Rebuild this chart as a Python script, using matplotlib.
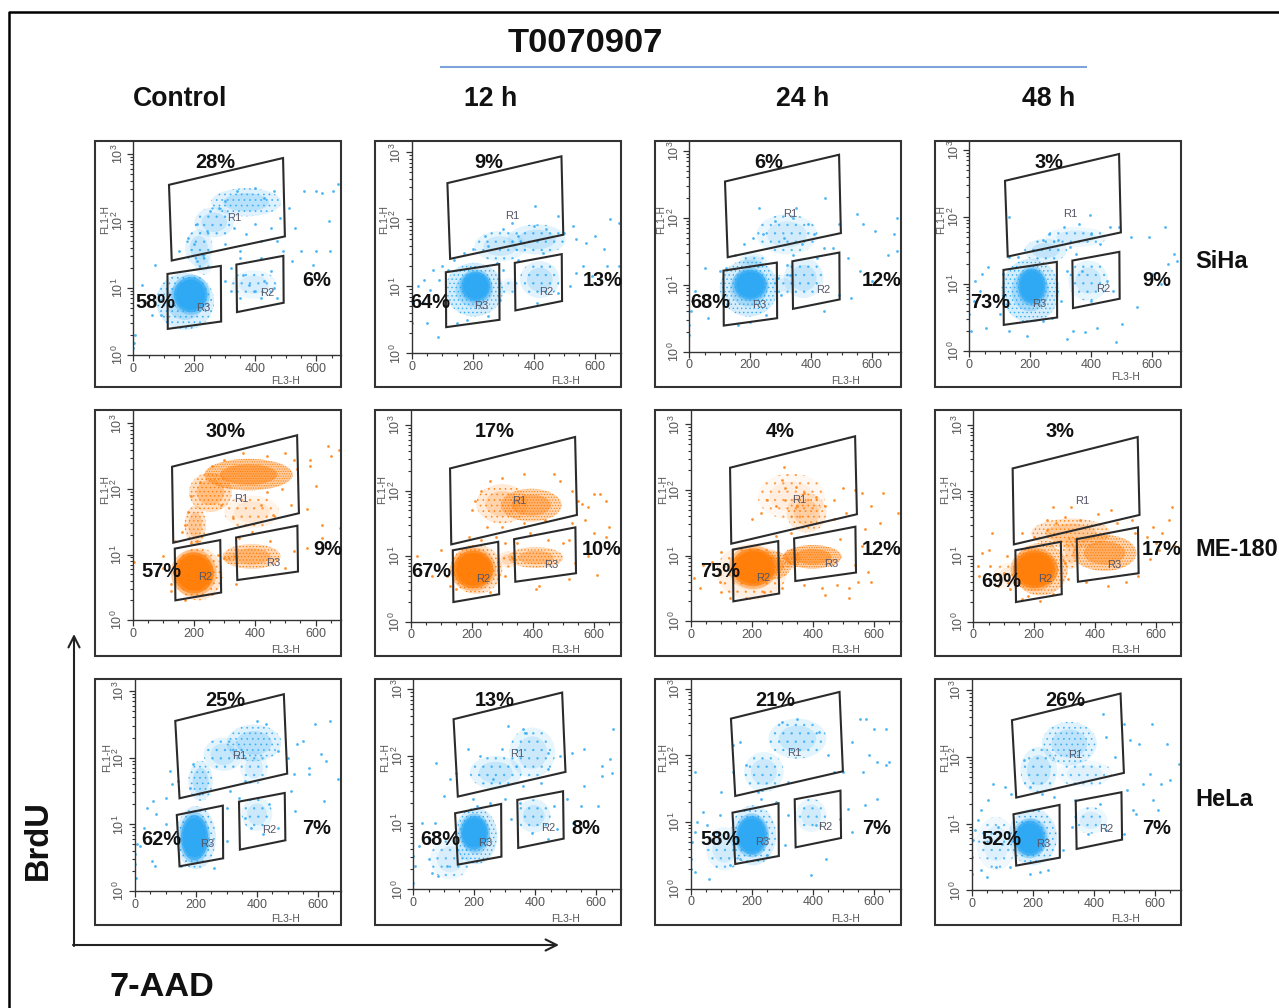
import matplotlib
matplotlib.use('Agg')
import matplotlib.pyplot as plt
import numpy as np
from matplotlib.patches import Ellipse, Polygon, Rectangle

plt.rcParams['font.family'] = ['Liberation Sans', 'DejaVu Sans']
plt.rcParams['mathtext.default'] = 'regular'
plt.rcParams['hatch.linewidth'] = 0.5

W, H = 1279, 1008
BLUE = '#2fa9f4'
ORANGE = '#ff7f0a'
TICK_GREY = '#555555'

ROW_NAMES = ['SiHa', 'ME-180', 'HeLa']
COL_NAMES = ['Control', '12 h', '24 h', '48 h']

# percentages per panel: top gate, left gate, right gate
SIHA_PCT = [('28%', '58%', '6%'), ('9%', '64%', '13%'), ('6%', '68%', '12%'), ('3%', '73%', '9%')]
ME180_PCT = [('30%', '57%', '9%'), ('17%', '67%', '10%'), ('4%', '75%', '12%'), ('3%', '69%', '17%')]
HELA_PCT = [('25%', '62%', '7%'), ('13%', '68%', '8%'), ('21%', '58%', '7%'), ('26%', '52%', '7%')]

# gates, FL3-H vs log10(FL1-H)
SIHA_GATES = {
    'R1': [(117, 2.54), (491, 2.94), (497, 1.77), (126, 1.41)],
    'R3': [(112, 1.21), (287, 1.33), (288, 0.50), (113, 0.39)],
    'R2': [(338, 1.35), (492, 1.48), (493, 0.78), (340, 0.64)],
}
ME180_GATES = {
    'R1': [(129, 2.34), (539, 2.82), (545, 1.63), (133, 1.18)],
    'R2': [(138, 1.09), (287, 1.22), (290, 0.42), (140, 0.30)],
    'R3': [(339, 1.26), (540, 1.44), (542, 0.74), (343, 0.61)],
}
HELA_GATES = {
    'R1': [(132, 2.55), (488, 2.95), (499, 1.76), (146, 1.39)],
    'R3': [(137, 1.14), (288, 1.28), (289, 0.49), (146, 0.37)],
    'R2': [(341, 1.34), (491, 1.47), (493, 0.76), (344, 0.62)],
}
SIHA_LABELS = {'R1': (331, 2.05), 'R3': (229, 0.70), 'R2': (440, 0.92)}
ME180_LABELS = {'R1': (357, 1.85), 'R2': (237, 0.65), 'R3': (462, 0.87)}
HELA_LABELS = {'R1': (341, 2.03), 'R3': (236, 0.70), 'R2': (441, 0.92)}

# dense regions: centre x, centre y, width, height, strength
SIHA_CTRL_BLOBS = [(170, .8, 190, .85, .4), (188, .9, 105, .5, 1), (370, 2.28, 230, .42, .35),
                   (265, 1.98, 130, .45, .3), (215, 1.6, 90, .55, .3), (230, 1.35, 60, .3, .2),
                   (395, 1.05, 150, .42, .2)]
SIHA_12_BLOBS = [(205, .95, 190, .8, .45), (210, 1.0, 90, .42, 1), (290, 1.6, 170, .45, .25),
                 (410, 1.7, 190, .45, .3), (420, 1.1, 130, .55, .3), (320, 1.0, 60, .25, .15)]
SIHA_24_BLOBS = [(195, .95, 190, .85, .45), (200, 1.0, 100, .42, 1), (320, 1.75, 200, .6, .22),
                 (210, 1.35, 90, .25, .25), (375, 1.1, 130, .6, .3), (310, 1.0, 80, .3, .2)]
SIHA_48_BLOBS = [(200, .9, 190, .95, .45), (205, .97, 85, .5, 1), (250, 1.5, 140, .35, .3),
                 (350, 1.7, 200, .3, .2), (390, 1.05, 130, .6, .25)]
ME180_CTRL_BLOBS = [(200, .72, 125, .6, 1), (215, .7, 160, .8, .4), (380, 2.22, 290, .48, .85),
                    (255, 1.95, 140, .6, .55), (205, 1.45, 70, .6, .45), (390, 1.65, 180, .5, .18),
                    (390, .97, 190, .38, .65), (320, .95, 50, .18, .3)]
ME180_12_BLOBS = [(205, .8, 125, .55, 1), (215, .8, 170, .75, .5), (395, 1.78, 200, .5, .7),
                  (300, 1.8, 170, .6, .35), (410, .98, 180, .32, .6), (320, .95, 70, .25, .3)]
ME180_24_BLOBS = [(205, .82, 135, .55, 1), (260, .85, 140, .45, .7), (200, .75, 230, .85, .25),
                  (400, .98, 190, .36, .85), (380, 1.65, 130, .6, .35), (330, 1.9, 220, .7, .12),
                  (330, .95, 60, .3, .5)]
ME180_48_BLOBS = [(200, .8, 130, .55, 1), (220, .8, 180, .8, .65), (430, 1.05, 210, .55, .75),
                  (320, 1.35, 260, .45, .45), (320, 1.05, 60, .5, .35), (120, .7, 110, .4, .15)]
HELA_CTRL_BLOBS = [(195, .8, 85, .65, 1), (200, .8, 130, .95, .4), (390, 2.22, 180, .55, .35),
                   (290, 2.05, 130, .5, .28), (215, 1.65, 80, .6, .35), (400, 1.15, 100, .5, .25),
                   (390, 1.85, 90, .5, .2)]
HELA_12_BLOBS = [(200, .85, 85, .48, 1), (205, .8, 140, .85, .45), (390, 2.05, 150, .75, .25),
                 (270, 1.75, 170, .5, .28), (395, 1.1, 110, .5, .28), (120, .45, 130, .6, .18)]
HELA_24_BLOBS = [(200, .8, 95, .55, 1), (205, .8, 150, .9, .4), (350, 2.25, 190, .6, .28),
                 (240, 1.75, 130, .6, .25), (395, 1.1, 100, .5, .22), (110, .6, 120, .65, .22)]
HELA_48_BLOBS = [(190, .78, 95, .5, 1), (200, .8, 160, .85, .4), (320, 2.2, 180, .65, .32),
                 (220, 1.8, 120, .7, .28), (390, 1.05, 110, .4, .2), (80, .7, 130, .8, .16),
                 (370, 1.75, 180, .4, .15)]

# scattered events: FL3-H, log10(FL1-H)
SIHA_CTRL_PTS = [(560, 2.45), (600, 2.45), (620, 2.42), (655, 2.45), (670, 2.55), (685, 2.4), (640, 2.0),
                 (550, 1.55), (600, 1.55), (645, 1.55), (680, 1.5), (590, 1.35), (520, 1.4), (530, 1.9),
                 (510, 2.2), (490, 1.55), (30, 1.05), (70, 1.35), (60, .6), (90, .6), (5, .3), (0, .1),
                 (3, .18), (340, 2.45), (400, 2.5), (460, 2.45), (430, 2.35), (300, 2.3), (280, 2.2),
                 (250, 2.15), (210, 1.95), (180, 1.75), (200, 1.65), (240, 1.85), (330, 1.9), (370, 1.8),
                 (400, 1.95), (450, 1.9), (480, 2.05), (420, 1.7), (350, 1.55), (300, 1.65), (470, 1.7),
                 (150, 1.55), (210, 1.4), (230, 1.5), (320, 1.3), (350, 1.45), (420, 1.45), (300, 1.1),
                 (320, .95), (360, 1.2), (380, 1.05), (400, .95), (430, 1.1), (450, 1.25), (460, 1.0),
                 (350, .85), (420, .85), (470, .85)]
SIHA_12_PTS = [(20, 1.0), (40, 1.1), (60, .95), (90, 1.1), (100, 1.3), (70, 1.25), (40, .75), (5, .75),
               (50, .45), (85, .25), (0, .45), (120, 1.25), (140, 1.4), (170, 1.5), (200, 1.55),
               (240, 1.75), (250, 1.6), (300, 1.85), (330, 1.95), (350, 1.75), (400, 1.9), (405, 2.2),
               (440, 1.85), (480, 2.05), (500, 1.8), (530, 1.9), (540, 1.7), (570, 1.65), (600, 1.75),
               (630, 1.55), (650, 2.0), (680, 1.95), (560, 1.3), (590, 1.15), (620, 1.1), (640, 1.3),
               (680, 1.3), (520, 1.0), (540, 1.2), (280, 1.35), (300, 1.25), (350, 1.4), (430, 1.5),
               (480, .9), (410, .75), (150, .45), (180, .5), (250, .55), (290, .8)]
SIHA_24_PTS = [(5, .6), (0, .4), (0, .25), (10, .75), (20, .9), (50, 1.25), (100, 1.2), (60, .85), (60, .5),
               (120, 1.25), (150, 1.45), (180, 1.6), (210, 1.7), (230, 2.15), (240, 1.75), (280, 1.95),
               (310, 1.7), (340, 2.0), (350, 2.15), (370, 1.6), (390, 1.9), (410, 1.75), (440, 1.55),
               (445, 2.3), (470, 1.55), (490, 1.9), (550, 2.05), (570, 1.9), (610, 1.8), (670, 1.75),
               (680, 2.0), (650, 1.45), (680, 1.5), (520, 1.4), (560, 1.2), (600, 1.05), (530, .8),
               (490, .85), (440, .6), (320, 1.3), (340, 1.45), (420, 1.4), (300, .85), (200, .45),
               (160, .4), (250, .55), (290, 1.1), (330, 1.15)]
SIHA_48_PTS = [(5, .3), (0, .55), (15, .75), (20, 1.05), (40, 1.15), (60, 1.25), (35, .9), (55, .35), (100, .55),
               (130, .3), (110, 1.15), (130, 1.4), (130, 2.0), (160, 1.4), (190, .22), (240, 1.65),
               (260, 1.75), (290, 1.65), (310, 1.85), (330, 1.55), (350, 1.45), (360, 1.9), (400, 1.75),
               (395, 2.03), (430, 1.6), (460, 1.85), (490, 1.85), (530, 1.7), (590, 1.7), (640, 1.85),
               (670, 1.45), (680, 1.35), (650, 1.3), (630, 1.0), (600, 1.15), (550, .65), (500, .4),
               (480, .14), (420, .35), (340, .3), (320, .18), (380, .28), (300, .75), (320, 1.2),
               (370, 1.2), (400, .75), (450, 1.05), (470, .9), (270, .5), (240, .45)]
ME180_CTRL_PTS = [(5, .88), (100, .8), (100, .98), (125, .55), (125, .45), (140, 1.2), (160, 1.35),
                  (180, 1.65), (190, 1.9), (170, 1.45), (220, 2.1), (260, 2.35), (300, 2.45), (360, 2.55),
                  (440, 2.5), (500, 2.55), (530, 2.45), (540, 2.3), (490, 2.0), (440, 1.95), (420, 1.75),
                  (330, 1.55), (290, 1.75), (460, 1.6), (520, 1.75), (640, 2.65), (650, 2.5), (675, 2.6),
                  (580, 2.45), (580, 2.35), (600, 2.05), (570, 1.7), (620, 1.45), (680, 1.4), (620, 1.25),
                  (570, 1.1), (530, 1.05), (500, .8), (450, 1.2), (350, 1.25), (390, 1.35), (340, .55),
                  (300, .95), (280, 1.0), (190, 1.18), (210, 1.2), (260, .4), (170, .3)]
ME180_12_PTS = [(20, 1.0), (50, .75), (70, .7), (100, 1.1), (120, .7), (130, .55), (230, 1.25), (190, 1.3),
                (200, 1.7), (210, 1.85), (230, 2.0), (260, 2.15), (300, 2.2), (370, 2.25), (470, 2.25),
                (490, 2.15), (530, 2.0), (550, 1.85), (440, 1.55), (370, 1.5), (300, 1.45), (250, 1.45),
                (280, 1.3), (390, 1.35), (530, 1.5), (560, 1.8), (570, 1.55), (580, 1.0), (610, .72),
                (600, 1.35), (640, 1.3), (650, 1.45), (580, 1.75), (600, 1.95), (620, 1.95), (640, 1.85),
                (420, .55), (410, .5), (520, .65), (500, 1.2), (350, 1.2), (450, 1.25), (310, .7),
                (310, 1.2), (150, .5), (260, .45), (520, 1.25), (540, .9)]
ME180_24_PTS = [(10, .65), (30, .5), (40, .85), (70, .9), (100, 1.05), (95, .6), (130, .35), (100, .45),
                (305, 2.35), (300, 2.15), (310, 2.03), (345, 2.05), (250, 1.85), (230, 1.65), (200, 1.55),
                (280, 1.75), (310, 1.85), (350, 1.75), (370, 1.95), (410, 1.9), (440, 1.75), (470, 1.85),
                (510, 1.65), (470, 1.55), (500, 2.03), (540, 2.0), (560, 1.95), (590, 1.75), (620, 1.5),
                (630, 1.95), (680, 1.65), (570, 1.4), (560, 1.15), (600, 1.05), (580, .75), (590, .6),
                (520, .35), (430, .5), (440, .4), (480, .55), (520, .5), (550, .6), (370, .55), (300, .5),
                (280, 1.3), (330, 1.35), (540, .85), (490, 1.25), (240, .45), (180, .35)]
ME180_48_PTS = [(15, .85), (30, 1.05), (50, 1.1), (20, .7), (55, .85), (60, 1.35), (100, .75), (80, .55),
                (260, 1.75), (270, 1.5), (240, 1.55), (300, 1.6), (320, 1.75), (350, 1.55), (410, 1.65),
                (450, 1.7), (470, 1.5), (520, 1.55), (570, 1.3), (600, 1.2), (590, 1.45), (640, 1.55),
                (650, 1.75), (680, 1.5), (680, 1.6), (620, 1.35), (660, 1.15), (580, .95), (610, 1.1),
                (530, 1.35), (540, .7), (500, .6), (440, .55), (370, .6), (310, .65), (300, .9),
                (160, .35), (220, .32), (180, .4), (260, .42), (120, .5), (110, 1.0), (160, 1.35),
                (200, 1.3), (240, 1.4)]
HELA_CTRL_PTS = [(0, .55), (0, .4), (2, .2), (5, .7), (15, .68), (30, .95), (40, 1.25), (60, 1.35), (70, 1.15),
                 (100, 1.0), (55, .45), (65, .38), (100, 1.4), (115, 1.8), (120, 1.6), (140, 1.65),
                 (180, 1.55), (190, 1.9), (210, 1.45), (300, 1.25), (310, 1.5), (340, 1.4), (360, 1.65),
                 (400, 2.55), (430, 2.5), (470, 2.1), (500, 2.0), (530, 2.2), (550, 2.25), (590, 2.5),
                 (640, 2.55), (610, 2.05), (625, 1.95), (570, 1.85), (570, 1.75), (620, 1.35), (665, 1.68),
                 (510, 1.5), (520, 1.75), (525, 1.2), (470, .95), (440, 1.3), (420, .85), (380, .95),
                 (360, 1.1), (150, .38), (260, .35), (300, .75)]
HELA_12_PTS = [(0, .5), (0, .1), (5, .35), (20, .65), (30, 1.0), (50, .75), (70, 1.0), (100, 1.4), (120, 1.65),
               (75, 1.9), (60, .25), (80, .2), (50, .45), (110, .35), (140, 1.75), (180, 2.1), (220, 2.0),
               (260, 1.65), (290, 2.1), (310, 2.45), (360, 2.4), (370, 2.35), (440, 2.05), (440, 1.8),
               (360, 1.55), (420, 1.6), (350, 1.3), (300, 1.35), (250, 1.3), (195, 1.35), (210, 1.25),
               (480, 2.0), (520, 2.05), (620, 1.85), (650, 1.75), (645, 1.95), (655, 2.4), (560, 2.1),
               (620, 1.7), (560, 1.55), (505, 1.35), (550, 1.25), (605, 1.25), (525, 1.0), (470, .9),
               (440, .75), (390, .85), (320, 1.05), (460, 1.25)]
HELA_24_PTS = [(0, .3), (0, .45), (5, .7), (15, .85), (20, 1.0), (40, 1.15), (55, .95), (15, .25), (60, .15),
               (100, 1.45), (95, 1.1), (15, 1.75), (140, 1.75), (140, 2.15), (160, 2.2), (180, 1.85),
               (220, 1.45), (230, 1.35), (280, 1.3), (320, 1.6), (300, 2.5), (350, 2.55), (420, 2.35),
               (450, 2.0), (470, 1.75), (500, 1.75), (530, 2.2), (555, 2.55), (575, 2.55), (600, 2.4),
               (640, 2.4), (585, 2.0), (610, 1.9), (565, 1.75), (640, 1.85), (650, 1.9), (610, 1.35),
               (570, 1.25), (515, 1.2), (530, .85), (490, 1.05), (445, .45), (395, .2), (310, .65),
               (320, 1.1), (410, .95), (250, .5), (160, .45), (130, .35)]
HELA_48_PTS = [(0, .25), (0, .5), (5, .75), (10, .9), (20, 1.05), (30, 1.2), (55, 1.35), (70, 1.6), (60, .8),
               (85, .95), (30, .3), (50, .2), (80, .35), (100, .7), (125, .35), (110, 1.55), (130, 1.45),
               (170, 1.95), (190, 1.55), (230, 1.45), (270, 1.4), (340, 1.35), (420, 1.3), (430, 2.65),
               (440, 2.3), (470, 2.0), (500, 2.5), (520, 2.25), (550, 2.2), (590, 2.5), (640, 2.2),
               (585, 1.75), (620, 1.6), (650, 1.65), (680, 1.9), (690, 1.8), (560, 1.6), (510, 1.5),
               (530, 1.2), (540, 1.15), (595, 1.35), (610, 1.2), (500, .85), (440, .9), (380, .85),
               (330, .95), (300, .6), (250, .3), (190, .25), (225, .28)]

SIHA_ROW = [(SIHA_CTRL_BLOBS, SIHA_CTRL_PTS), (SIHA_12_BLOBS, SIHA_12_PTS),
            (SIHA_24_BLOBS, SIHA_24_PTS), (SIHA_48_BLOBS, SIHA_48_PTS)]
ME180_ROW = [(ME180_CTRL_BLOBS, ME180_CTRL_PTS), (ME180_12_BLOBS, ME180_12_PTS),
             (ME180_24_BLOBS, ME180_24_PTS), (ME180_48_BLOBS, ME180_48_PTS)]
HELA_ROW = [(HELA_CTRL_BLOBS, HELA_CTRL_PTS), (HELA_12_BLOBS, HELA_12_PTS),
            (HELA_24_BLOBS, HELA_24_PTS), (HELA_48_BLOBS, HELA_48_PTS)]

# layout in image pixels
BOX_LEFT = [95, 375, 655, 935]
BOX_TOP = [141, 410, 679]
BOX_SIZE = 246
ORIGIN_X = [[133.3, 411.7, 689.3, 969.3], [132.7, 410.7, 690.7, 973.3], [135, 413.3, 690.7, 971.7]]
ORIGIN_Y = [[355, 353.3, 351.7, 351], [620, 621.7, 621, 621.7], [891, 889.3, 888.7, 890.3]]
PX_PER_UNIT = 0.305
PX_PER_DECADE = [67.0, 65.5, 66.7]
FL1_X = [[105, 384, 661, 941], [105, 382, 663, 945], [107, 385, 663, 945]]

# centres of the percent labels in pixels
TOP_PCT_XY = [[(215, 161), (489, 161), (769, 161), (1049, 161)],
              [(226, 430), (495, 430), (780, 430), (1060, 430)],
              [(225, 699), (495, 699), (775, 699), (1065, 699)]]
LEFT_PCT_XY = [[(155, 301), (430, 301), (710, 301), (990, 301)],
               [(161, 570), (431, 570), (720, 570), (1001, 580)],
               [(161, 838), (440, 838), (720, 838), (1001, 838)]]
RIGHT_PCT_XY = [[(317, 279), (603, 279), (882, 279), (1157, 279)],
                [(328, 548), (602, 548), (882, 548), (1162, 548)],
                [(317, 827), (586, 827), (877, 827), (1157, 827)]]


def draw_blob(ax, blob, color):
    cx, cy, w, h, strength = blob
    if strength >= 1:
        # saturated core: the events merge into a solid patch
        for scale, alpha in ((1.2, 0.4), (1.05, 0.75), (0.9, 1.0)):
            ax.add_patch(Ellipse((cx, cy), w * scale, h * scale, color=color, lw=0, alpha=alpha))
        return
    # looser clouds: tint with a dotted texture, so they read as separate events
    hatch = '.' * max(2, int(round(strength * 8)))
    ax.add_patch(Ellipse((cx, cy), w, h, fc=color, ec='none', lw=0, alpha=strength * 0.45))
    ax.add_patch(Ellipse((cx, cy), w, h, fc='none', ec=color, lw=0, hatch=hatch, alpha=min(1, 0.5 + strength)))
    ax.add_patch(Ellipse((cx, cy), w * 0.65, h * 0.65, fc=color, ec='none', lw=0, alpha=strength * 0.6))


def draw_panel(fig, row, col, blobs, pts, gates, labels, color):
    x0 = ORIGIN_X[row][col]
    y0 = ORIGIN_Y[row][col]
    top = BOX_TOP[row]
    right = BOX_LEFT[col] + BOX_SIZE
    ax = fig.add_axes([x0 / W, 1 - y0 / H, (right - x0) / W, (y0 - top) / H])
    ax.set_xlim(0, (right - x0) / PX_PER_UNIT)
    ax.set_ylim(0, (y0 - top) / PX_PER_DECADE[row])
    ax.patch.set_alpha(0)

    for blob in blobs:
        draw_blob(ax, blob, color)
    pts = np.array(pts)
    ax.scatter(pts[:, 0], pts[:, 1], s=4, color=color, lw=0, alpha=0.85)

    for name, corners in gates.items():
        ax.add_patch(Polygon(corners, closed=True, fill=False, ec='#2b2b2b', lw=1.5))
    for name, (x, y) in labels.items():
        ax.text(x, y, name, fontsize=8, color='#555566', ha='center', va='center')

    for side in ('top', 'right'):
        ax.spines[side].set_visible(False)
    for side in ('left', 'bottom'):
        ax.spines[side].set_linewidth(1.0)
        ax.spines[side].set_color('#333333')
    ax.set_xticks([0, 200, 400, 600])
    ax.set_xticks([50, 100, 150, 250, 300, 350, 450, 500, 550, 650], minor=True)
    ax.set_yticks([0, 1, 2, 3])
    ax.set_yticklabels(['$10^0$', '$10^1$', '$10^2$', '$10^3$'], rotation=90, va='center')
    ax.set_yticks(np.log10([d * m for d in (1, 10, 100) for m in range(2, 10)]), minor=True)
    ax.tick_params(axis='both', which='major', length=4, width=0.9, color='#333333',
                   labelsize=9, labelcolor=TICK_GREY, pad=1.5)
    ax.tick_params(axis='both', which='minor', length=2, width=0.8, color='#333333')
    return ax


def main():
    fig = plt.figure(figsize=(W / 100, H / 100), dpi=100)

    rows = [(SIHA_ROW, SIHA_GATES, SIHA_LABELS, BLUE, SIHA_PCT),
            (ME180_ROW, ME180_GATES, ME180_LABELS, ORANGE, ME180_PCT),
            (HELA_ROW, HELA_GATES, HELA_LABELS, BLUE, HELA_PCT)]
    for r, (row_data, gates, labels, color, _) in enumerate(rows):
        for c, (blobs, pts) in enumerate(row_data):
            draw_panel(fig, r, c, blobs, pts, gates, labels, color)

    # overlay in pixel coordinates for frame, boxes and annotation
    over = fig.add_axes([0, 0, 1, 1], zorder=5)
    over.set_xlim(0, W)
    over.set_ylim(H, 0)
    over.axis('off')
    over.plot([9, 9, W], [H, 12, 12], color='black', lw=1.8, clip_on=False)

    for r, top in enumerate(BOX_TOP):
        for c, left in enumerate(BOX_LEFT):
            over.add_patch(Rectangle((left, top), BOX_SIZE, BOX_SIZE, fill=False, ec='#333333', lw=1.5))
            over.text(left + 191, top + (236 if c == 3 and r == 0 else 240), 'FL3-H', fontsize=7.5,
                      color=TICK_GREY, ha='center', va='center')
            over.text(FL1_X[r][c], top + 79, 'FL1-H', fontsize=7.5, color=TICK_GREY, rotation=90,
                      ha='center', va='center')

    for r, row_info in enumerate(rows):
        pct = row_info[4]
        for c in range(4):
            for xy, s in zip((TOP_PCT_XY[r][c], LEFT_PCT_XY[r][c], RIGHT_PCT_XY[r][c]), pct[c]):
                over.text(xy[0], xy[1] + 1.5, s, fontsize=14.4, fontweight='bold', color='#111111',
                          ha='center', va='center')

    over.text(585, 43, 'T0070907', fontsize=24.8, fontweight='bold', ha='center', va='center', color='#111111')
    over.plot([441, 1086], [66.5, 66.5], color='#7ea3dc', lw=1.5)
    for x, name in zip([180, 491, 803, 1049], COL_NAMES):
        over.text(x, 99, name, fontsize=19.2, fontweight='bold', ha='center', va='center', color='#111111')
    for y, name in zip([262, 550, 799], ROW_NAMES):
        over.text(1195, y, name, fontsize=17, fontweight='bold', ha='left', va='center', color='#111111')

    over.annotate('', xy=(74, 634), xytext=(74, 946),
                  arrowprops=dict(arrowstyle='->', color='#222222', lw=1.5, mutation_scale=20, shrinkA=0, shrinkB=0))
    over.annotate('', xy=(559, 945), xytext=(73, 945),
                  arrowprops=dict(arrowstyle='->', color='#222222', lw=1.5, mutation_scale=20, shrinkA=0, shrinkB=0))
    over.text(38, 840, 'BrdU', fontsize=23.5, fontweight='bold', rotation=90, ha='center', va='center', color='#111111')
    over.text(162, 987, '7-AAD', fontsize=24.7, fontweight='bold', ha='center', va='center', color='#111111')

    fig.savefig('out.png', dpi=100)
    plt.close(fig)


main()
